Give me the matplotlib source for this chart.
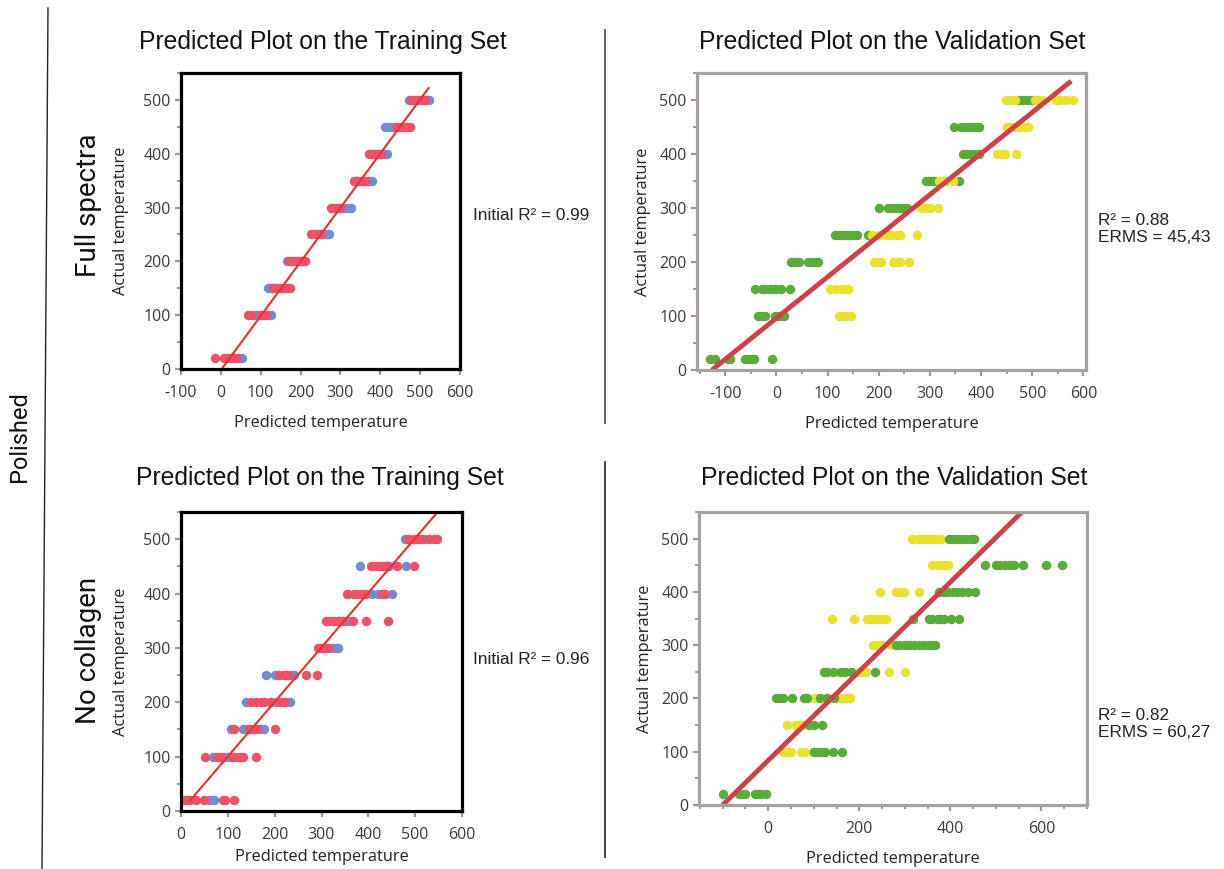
import matplotlib
matplotlib.use("Agg")
import matplotlib.pyplot as plt
from matplotlib.lines import Line2D
from matplotlib.ticker import MultipleLocator

plt.rcParams["axes.unicode_minus"] = False

# ---------------- data ----------------
levels = [20, 100, 150, 200, 250, 300, 350, 400, 450, 500]

# Full spectra - training set (predicted values per actual level)
full_train_red = [[-15, 9, 14, 22, 33, 40],
                  [67, 75, 100, 108, 113],
                  [132, 145, 150, 156, 162, 168, 173],
                  [172, 178, 187, 196, 205, 212],
                  [226, 234, 242, 250],
                  [276, 282, 290, 298],
                  [333, 340, 350, 358, 362],
                  [372, 380, 388, 395, 402],
                  [440, 452, 458, 465, 470, 474],
                  [478, 485, 495, 505, 512]]
full_train_blue = [[18, 26, 30, 45, 53],
                   [82, 88, 95, 104, 120, 127],
                   [118, 123, 128, 135, 140],
                   [166, 182, 192, 200],
                   [248, 255, 262, 268, 272],
                   [288, 296, 305, 312, 320, 326],
                   [338, 345, 355, 368, 372, 378],
                   [385, 398, 405, 412, 416],
                   [412, 422, 432, 440, 448],
                   [472, 488, 500, 510, 518, 522]]

# Full spectra - validation set
full_val_green = [[-130, -120, -95, -90, -62, -55, -48, -43, -8],
                  [-35, -30, -23, -3, 3, 8, 15],
                  [-42, -28, -23, -12, -5, 0, 10, 26],
                  [28, 33, 38, 45, 62, 68, 75, 81],
                  [115, 120, 127, 133, 140, 146, 152, 158, 180],
                  [200, 218, 225, 232, 240, 248, 255],
                  [293, 298, 305, 312, 330, 357],
                  [365, 372, 380, 388, 395],
                  [347, 360, 368, 375, 383, 390, 395],
                  [475, 482, 490, 498, 508]]
full_val_yellow = [[],
                   [122, 130, 137, 145],
                   [104, 117, 128, 133, 140],
                   [190, 197, 204, 227, 235, 242, 260],
                   [186, 200, 213, 222, 233, 241, 275],
                   [282, 292, 300, 315],
                   [318, 328, 345],
                   [432, 440, 446, 468],
                   [450, 458, 466, 475, 483, 491],
                   [449, 458, 466, 505, 520, 546, 555, 565, 579]]

# No collagen - training set
noc_train_red = [[9, 14, 20, 33, 49, 90, 94, 113],
                 [52, 77, 85, 110, 125, 133, 160],
                 [113, 145, 155, 163, 200],
                 [149, 160, 171, 178, 190, 212, 221],
                 [210, 220, 228, 267, 291],
                 [292, 300, 307, 314],
                 [310, 316, 325, 335, 345, 368, 395, 443],
                 [355, 370, 378, 393, 430, 436],
                 [405, 412, 418, 425, 432, 440, 462, 497],
                 [485, 495, 505, 515, 530, 540, 547]]
noc_train_blue = [[60, 65, 70],
                  [68, 92, 99, 106, 115, 120],
                  [106, 133, 140, 150, 170, 178],
                  [138, 192, 203, 220, 232],
                  [181, 200, 205, 225, 238, 242],
                  [296, 318, 325, 330, 335],
                  [325, 335, 340, 355, 360],
                  [357, 385, 395, 407, 420, 450],
                  [382, 432, 440, 445, 480],
                  [478, 485, 500, 510, 518]]

# No collagen - validation set
noc_val_green = [[-100, -65, -58, -50, -30, -22, -15, -5],
                 [100, 106, 112, 118, 125, 143, 163],
                 [90, 100, 118],
                 [17, 24, 33, 52, 78, 85, 113, 128, 145],
                 [123, 130, 143, 160, 168, 182, 235],
                 [280, 290, 300, 310, 320, 330, 340, 350, 360, 366],
                 [318, 352, 360, 372, 380, 386, 402, 420],
                 [375, 385, 395, 405, 415, 425, 438, 455],
                 [476, 500, 510, 520, 530, 540, 560, 610, 646],
                 [398, 405, 415, 425, 435, 445, 452]]
noc_val_yellow = [[],
                  [33, 38, 44, 50, 73, 80, 98],
                  [42, 60, 68, 77],
                  [100, 108, 130, 150, 160, 168, 175, 180],
                  [150, 185, 200, 210, 215, 235, 265, 300],
                  [230, 237, 243, 250, 270],
                  [140, 188, 218, 225, 232, 240, 250, 258],
                  [245, 280, 290, 298, 330],
                  [360, 370, 378, 385, 395],
                  [316, 328, 338, 345, 352, 360, 368, 380]]

# fitted lines (predicted, actual endpoints)
fit_full_train_x = [2, 521]
fit_full_train_y = [0, 522]
fit_full_val_x = [-126, 576]
fit_full_val_y = [0, 535]
fit_noc_train_x = [20, 548]
fit_noc_train_y = [20, 550]
fit_noc_val_x = [-100, 562]
fit_noc_val_y = [0, 554]

titles = ["Predicted Plot on the Training Set", "Predicted Plot on the Validation Set"]
notes = ["Initial R\u00b2 = 0.99", "R\u00b2 = 0.88\nERMS = 45,43",
         "Initial R\u00b2 = 0.96", "R\u00b2 = 0.82\nERMS = 60,27"]
row_labels = ["Full spectra", "No collagen"]
group_label = "Polished"

# ---------------- style ----------------
RED = "#ee5068"
BLUE = "#6d8fd0"
GREEN = "#5aab3a"
YELLOW = "#e9e12c"
TICKC = "#9e9792"
LABC = "#3a3a3a"
TICKFONT = "Open Sans"

W, H = 1224, 869
fig = plt.figure(figsize=(W / 100, H / 100), dpi=100)
fig.patch.set_facecolor("white")


def rect(x0, y0, x1, y1):
    return [x0 / W, 1 - y1 / H, (x1 - x0) / W, (y1 - y0) / H]


def flat(groups):
    xs, ys = [], []
    for lv, vals in zip(levels, groups):
        xs += vals
        ys += [lv] * len(vals)
    return xs, ys


def style_axes(ax, spine_color, xlim, xmajor, xminor, ylabpad, xlabpad):
    ax.set_xlim(*xlim)
    ax.set_ylim(0, 550)
    ax.xaxis.set_major_locator(MultipleLocator(xmajor))
    if xminor:
        ax.xaxis.set_minor_locator(MultipleLocator(xminor))
    ax.yaxis.set_major_locator(MultipleLocator(100))
    ax.yaxis.set_minor_locator(MultipleLocator(50))
    for s in ax.spines.values():
        s.set_color(spine_color)
        s.set_linewidth(2.3)
        s.set_zorder(5)
    ax.tick_params(which="major", direction="out", length=4.5, width=1.6,
                   color=TICKC, labelcolor=LABC, labelsize=11.5)
    ax.tick_params(axis="x", which="major", pad=7)
    ax.tick_params(axis="y", which="major", pad=3)
    ax.tick_params(which="minor", direction="out", length=3, width=1.4, color=TICKC)
    for lab in ax.get_xticklabels() + ax.get_yticklabels():
        lab.set_family(TICKFONT)
    ax.set_xlabel("Predicted temperature", family=TICKFONT, fontsize=11.8, color="#222222", labelpad=xlabpad)
    ax.set_ylabel("Actual temperature", family=TICKFONT, fontsize=11.8, color="#222222", labelpad=ylabpad)


MS = 46

# Panel 1
ax1 = fig.add_axes(rect(181, 73, 460, 369))
x, y = flat(full_train_blue)
ax1.scatter(x, y, s=MS, color=BLUE, linewidths=0, zorder=3)
x, y = flat(full_train_red)
ax1.scatter(x, y, s=MS, color=RED, linewidths=0, zorder=3)
ax1.plot(fit_full_train_x, fit_full_train_y, color="#e8302e", lw=1.5, zorder=4)
style_axes(ax1, "black", (-100, 600), 100, None, 10, 10)

# Panel 2
ax2 = fig.add_axes(rect(697, 73, 1086, 370))
x, y = flat(full_val_green)
ax2.scatter(x, y, s=MS, color=GREEN, linewidths=0, zorder=3)
x, y = flat(full_val_yellow)
ax2.scatter(x, y, s=MS, color=YELLOW, linewidths=0, zorder=3)
ax2.plot(fit_full_val_x, fit_full_val_y, color="#cf4048", lw=3.5, zorder=4, solid_capstyle="butt")
style_axes(ax2, "#a8a09a", (-155, 605), 100, 50, 6, 10)

# Panel 3
ax3 = fig.add_axes(rect(181, 512, 462, 811))
x, y = flat(noc_train_blue)
ax3.scatter(x, y, s=MS, color=BLUE, linewidths=0, zorder=3)
x, y = flat(noc_train_red)
ax3.scatter(x, y, s=MS, color=RED, linewidths=0, zorder=3)
ax3.plot(fit_noc_train_x, fit_noc_train_y, color="#e8302e", lw=1.5, zorder=4)
style_axes(ax3, "black", (0, 600), 100, None, 10, 4.5)

# Panel 4
ax4 = fig.add_axes(rect(699, 512, 1087, 805))
x, y = flat(noc_val_yellow)
ax4.scatter(x, y, s=MS, color=YELLOW, linewidths=0, zorder=3)
x, y = flat(noc_val_green)
ax4.scatter(x, y, s=MS, color=GREEN, linewidths=0, zorder=3)
ax4.plot(fit_noc_val_x, fit_noc_val_y, color="#cf4048", lw=3.5, zorder=4, solid_capstyle="butt")
style_axes(ax4, "#a8a09a", (-152, 700), 200, 50, 6, 10)

# Titles
TF = "Liberation Sans"
TS = 17.8
fig.text(323 / W, 1 - 42 / H, titles[0], ha="center", va="center", family=TF, fontsize=TS, color="#111111")
fig.text(892 / W, 1 - 42 / H, titles[1], ha="center", va="center", family=TF, fontsize=TS, color="#111111")
fig.text(320 / W, 1 - 478 / H, titles[0], ha="center", va="center", family=TF, fontsize=TS, color="#111111")
fig.text(894 / W, 1 - 478 / H, titles[1], ha="center", va="center", family=TF, fontsize=TS, color="#111111")

# Notes
NS = 12.4
fig.text(473 / W, 1 - 216 / H, notes[0], ha="left", va="center", family=TF, fontsize=NS, color="#222222")
fig.text(1098 / W, 1 - 229 / H, notes[1], ha="left", va="center", family=TF, fontsize=NS, color="#222222", linespacing=1.15)
fig.text(473 / W, 1 - 660 / H, notes[2], ha="left", va="center", family=TF, fontsize=NS, color="#222222")
fig.text(1098 / W, 1 - 724 / H, notes[3], ha="left", va="center", family=TF, fontsize=NS, color="#222222", linespacing=1.15)

# Row / group labels
NF = ["Roboto", "DejaVu Sans"]
fig.text(88 / W, 1 - 205 / H, row_labels[0], rotation=90, ha="center", va="center", family=NF, fontsize=20, color="#111111")
fig.text(88 / W, 1 - 650 / H, row_labels[1], rotation=90, ha="center", va="center", family=NF, fontsize=20, color="#111111")
fig.text(20 / W, 1 - 437 / H, group_label, rotation=90, ha="center", va="center", family=NF, fontsize=17, color="#111111")

# Separator lines
fig.add_artist(Line2D([48 / W, 42 / W], [1 - 8 / H, 1 - 869 / H], color="#222222", lw=1.0))
fig.add_artist(Line2D([605 / W, 605 / W], [1 - 30 / H, 1 - 423 / H], color="#555555", lw=1.3))
fig.add_artist(Line2D([605 / W, 605 / W], [1 - 462 / H, 1 - 857 / H], color="#333333", lw=1.3))

fig.savefig("out.png", dpi=100, facecolor="white")
